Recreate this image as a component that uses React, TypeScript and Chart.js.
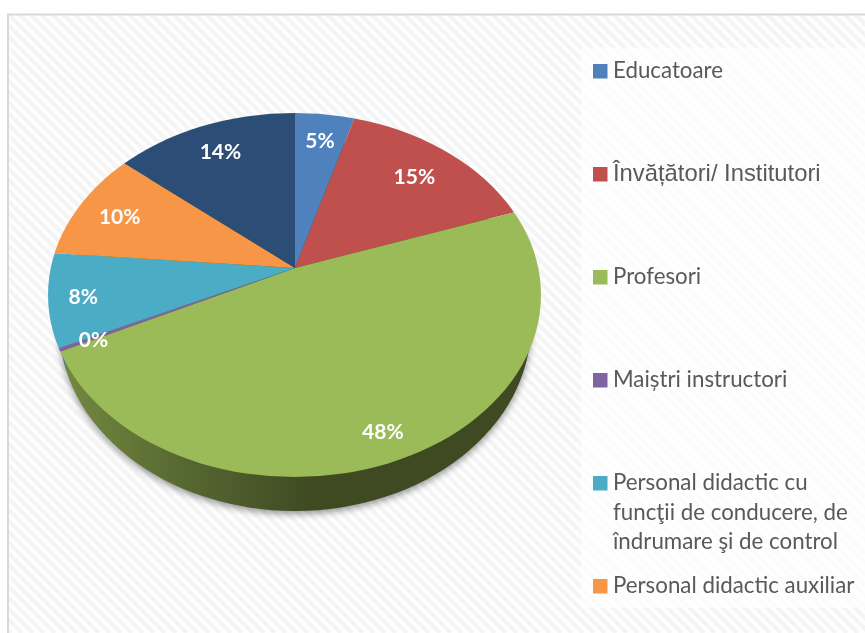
import React, { useEffect, useRef } from "react";
import { Chart, registerables } from "chart.js";

Chart.register(...registerables);

const categories = [
  "Educatoare",
  "Învățători/ Institutori",
  "Profesori",
  "Maiștri instructori",
  "Personal didactic cu funcţii de conducere, de îndrumare şi de control",
  "Personal didactic auxiliar",
  "",
];
const shares = [4.6, 15.2, 48.15, 0.3, 8.05, 9.6, 14.1];
const shareLabels = ["5%", "15%", "48%", "0%", "8%", "10%", "14%"];
const colors = ["#4f81bd", "#c0504d", "#9bbb59", "#8064a2", "#4bacc6", "#f79646", "#2c4d75"];

const legendLines = [
  ["Educatoare"],
  ["Învățători/ Institutori"],
  ["Profesori"],
  ["Maiștri instructori"],
  ["Personal didactic cu", "funcţii de conducere, de", "îndrumare şi de control"],
  ["Personal didactic auxiliar"],
];

// layout (not data)
const APEX = { x: 295, y: 268 };
const TILT = 0.75;
const TOP = { cx: 294.5, cy: 295, rx: 246.5, ry: 182 };
const BOTTOM = { cx: 295, cy: 325, rx: 236, ry: 186 };
const labelRadius = [173, 172, 234, 222, 215, 189, 174];
const legendBaselines = [[78], [181], [284], [387], [490, 520, 549], [593]];
const legendFonts = ["22.3px Lato", '23.8px "Liberation Sans"', "22.3px Lato", "22.3px Lato", "22.3px Lato", "22.3px Lato"];

const background = {
  id: "background",
  beforeDraw(chart: any) {
    const { ctx, width, height } = chart;
    ctx.save();
    ctx.fillStyle = "#ffffff";
    ctx.fillRect(0, 0, width, height);
    const frame = new Path2D();
    frame.rect(9, 15, width, height);
    ctx.save();
    ctx.clip(frame);
    ctx.strokeStyle = "#f5f5f5";
    ctx.lineWidth = 4.5;
    for (let s = -height; s < width + 20; s += 11) {
      ctx.beginPath();
      ctx.moveTo(s, 0);
      ctx.lineTo(s + height, height);
      ctx.stroke();
    }
    ctx.restore();
    ctx.strokeStyle = "#d9d9d9";
    ctx.lineWidth = 2;
    ctx.beginPath();
    ctx.moveTo(8, height + 2);
    ctx.lineTo(8, 14.5);
    ctx.lineTo(width + 2, 14.5);
    ctx.stroke();
    ctx.fillStyle = "rgba(255,255,255,0.72)";
    ctx.fillRect(581, 47.5, width - 581, 560.5);
    ctx.restore();
  },
};

const piePerspective = {
  id: "piePerspective",
  beforeDatasetsDraw(chart: any) {
    const { ctx, chartArea } = chart;
    ctx.save();
    ctx.shadowColor = "rgba(0,0,0,0.42)";
    ctx.shadowBlur = 7;
    ctx.shadowOffsetY = 3;
    const wall = ctx.createLinearGradient(60, 0, 310, 0);
    wall.addColorStop(0, "#2f7f98");
    wall.addColorStop(0.016, "#2f7f98");
    wall.addColorStop(0.028, "#72883f");
    wall.addColorStop(0.45, "#596b33");
    wall.addColorStop(1, "#3f4a22");
    ctx.fillStyle = wall;
    ctx.beginPath();
    ctx.ellipse(BOTTOM.cx, BOTTOM.cy, BOTTOM.rx, BOTTOM.ry, 0, 0, Math.PI * 2);
    ctx.fill();
    ctx.restore();

    ctx.save();
    ctx.beginPath();
    ctx.ellipse(TOP.cx, TOP.cy, TOP.rx, TOP.ry, 0, 0, Math.PI * 2);
    ctx.clip();
    ctx.translate(APEX.x, APEX.y);
    ctx.scale(1, TILT);
    ctx.translate(-(chartArea.left + chartArea.right) / 2, -(chartArea.top + chartArea.bottom) / 2);
  },
  afterDatasetsDraw(chart: any) {
    const { ctx } = chart;
    ctx.restore();

    const arcs = chart.getDatasetMeta(0).data;
    ctx.save();
    ctx.fillStyle = "#ffffff";
    ctx.font = "bold 21px Lato";
    ctx.textAlign = "center";
    ctx.textBaseline = "middle";
    arcs.forEach((arc: any, i: number) => {
      const { startAngle, endAngle } = arc.getProps(["startAngle", "endAngle"], true);
      const mid = (startAngle + endAngle) / 2;
      const x = APEX.x + Math.cos(mid) * labelRadius[i];
      const y = APEX.y + Math.sin(mid) * labelRadius[i] * TILT + 2;
      ctx.fillText(shareLabels[i], x, y);
    });
    ctx.restore();

    ctx.save();
    ctx.textBaseline = "alphabetic";
    ctx.textAlign = "left";
    legendLines.forEach((lines, i) => {
      const base = legendBaselines[i];
      ctx.fillStyle = colors[i];
      ctx.fillRect(593, base[0] - 14, 14.5, 14.5);
      ctx.fillStyle = "#595959";
      ctx.font = legendFonts[i];
      lines.forEach((line, j) => ctx.fillText(line, 613, base[j]));
    });
    ctx.restore();
  },
};

export default function App() {
  const ref = useRef<HTMLCanvasElement>(null);
  useEffect(() => {
    const chart = new Chart(ref.current!, {
      type: "pie",
      data: {
        labels: categories,
        datasets: [{ data: shares, backgroundColor: colors, borderWidth: 0, clip: false } as any],
      },
      options: {
        animation: false,
        responsive: false,
        radius: 340,
        layout: { padding: 0 },
        plugins: { legend: { display: false }, tooltip: { enabled: false } },
      } as any,
      plugins: [background, piePerspective],
    });
    return () => chart.destroy();
  }, []);
  return (
    <canvas
      ref={ref}
      width={865}
      height={633}
      style={{ position: "absolute", left: 0, top: 0, display: "block" }}
    />
  );
}
